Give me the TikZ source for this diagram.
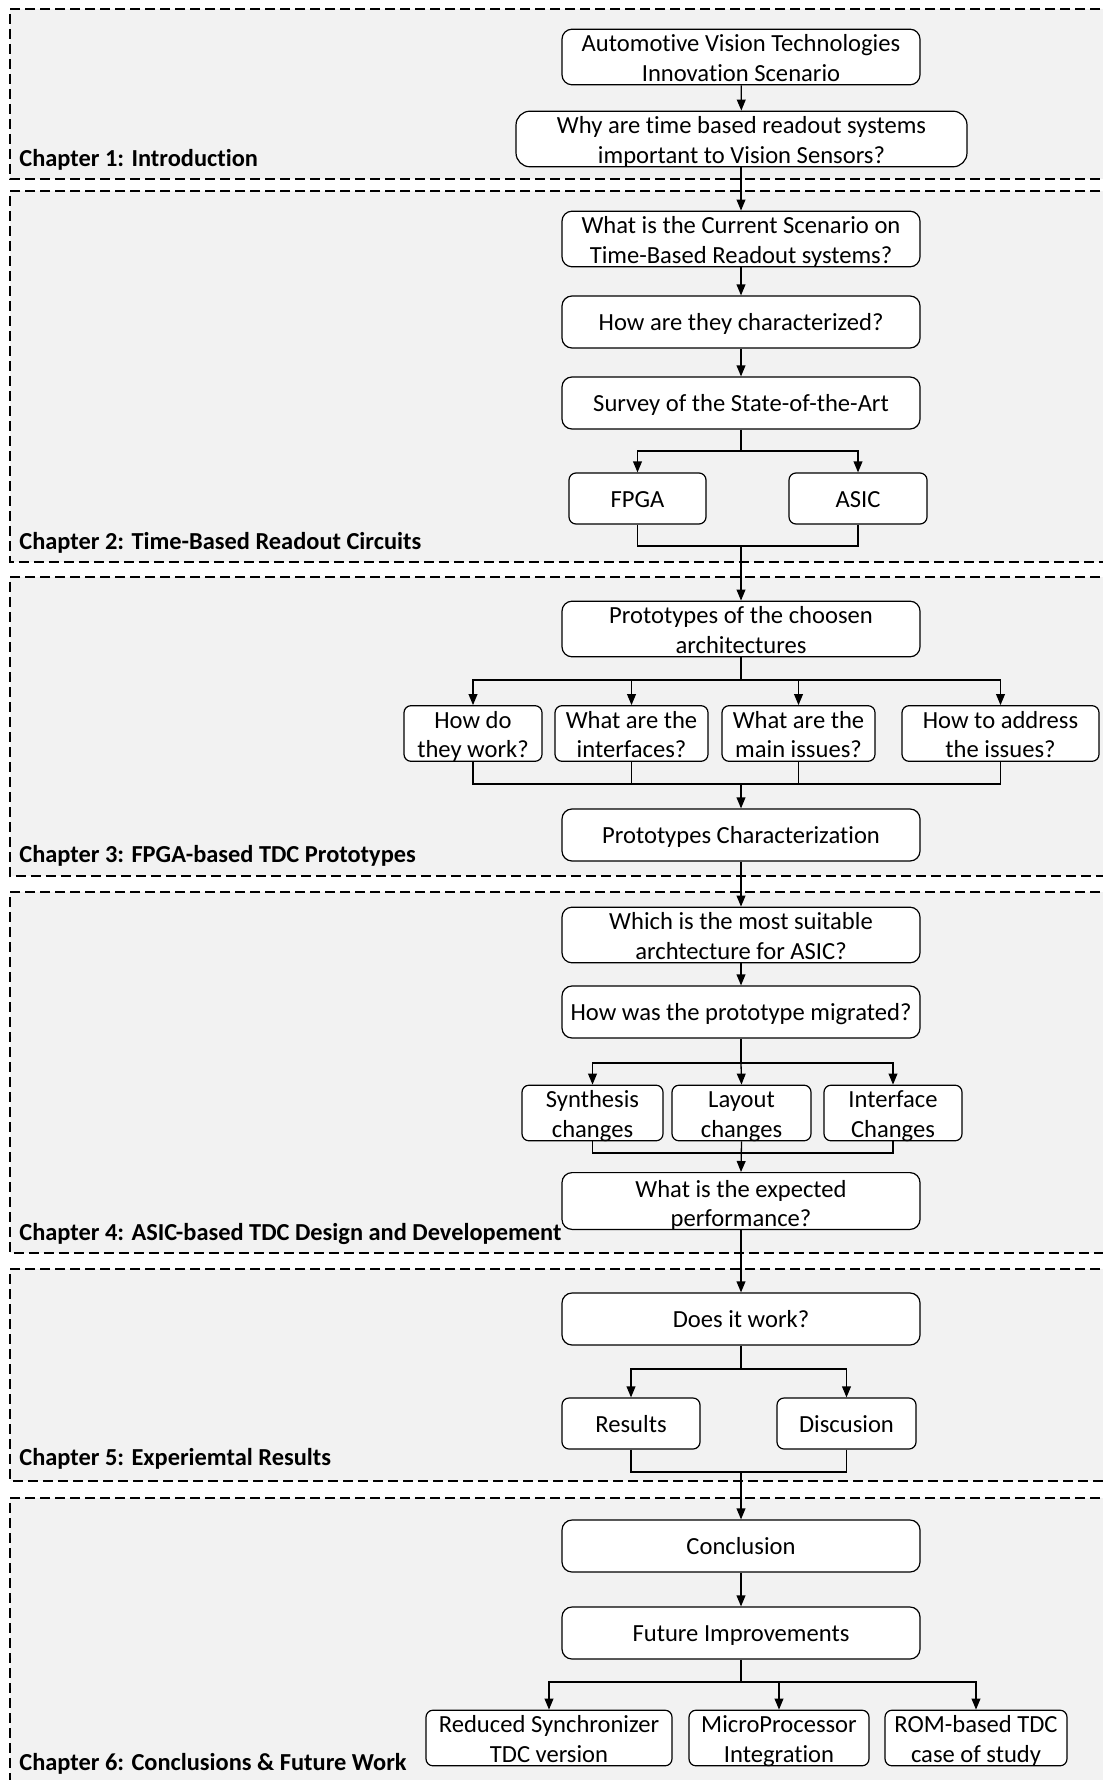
\documentclass[tikz,border=0pt]{standalone}
\usepackage{fontspec}
\setmainfont{Carlito}[Ligatures=NoCommon]
\usetikzlibrary{arrows.meta}
\definecolor{secgray}{HTML}{F2F2F2}
\begin{document}
\begin{tikzpicture}[x=0.5pt,y=-0.5pt,
  secline/.style={draw=black, dash pattern=on 5pt off 2.5pt, line width=0.7pt},
  box/.style={draw, line width=0.6pt, rounded corners=5pt, fill=white, align=center, inner sep=0pt, font=\fontsize{12.3}{14.8}\selectfont},
  one/.style={text height=11pt, text depth=2.2pt},
  two/.style={text height=26pt, text depth=1.8pt},
  sbox/.style={box, rounded corners=3.5pt},
  mainbox/.style={box, minimum width=179pt, minimum height=26pt},
  lbl/.style={anchor=west, font=\bfseries\fontsize{12.2}{14}\selectfont, inner sep=0pt},
  arr/.style={-{Triangle[length=5.5pt,width=4.4pt]}, line width=0.65pt},
  ln/.style={line width=0.65pt}]
\useasboundingbox (0,0) rectangle (1102,1780);
\fill[white] (0,0) rectangle (1102,1780);
% sections
\fill[secgray] (10,9) rectangle (1115,179);
\fill[secgray] (10,191) rectangle (1115,562);
\fill[secgray] (10,577) rectangle (1115,876);
\fill[secgray] (10,892) rectangle (1115,1253);
\fill[secgray] (10,1269) rectangle (1115,1481);
\fill[secgray] (10,1498) rectangle (1115,1795);
\draw[secline] (1115,9) -- (10,9) -- (10,179) -- (1115,179);
\draw[secline] (1115,191) -- (10,191) -- (10,562) -- (1115,562);
\draw[secline] (1115,577) -- (10,577) -- (10,876) -- (1115,876);
\draw[secline] (1115,892) -- (10,892) -- (10,1253) -- (1115,1253);
\draw[secline] (1115,1269) -- (10,1269) -- (10,1481) -- (1115,1481);
\draw[secline] (1115,1498) -- (10,1498) -- (10,1795);
% coordinates
\coordinate (b2) at (741,451);
\coordinate (m2) at (741,546);
\coordinate (b3) at (741,680);
\coordinate (m3) at (741,784);
\coordinate (b4) at (741,1063);
\coordinate (m4) at (741,1153);
\coordinate (b5) at (741,1369);
\coordinate (m5) at (741,1472);
\coordinate (b6) at (741,1682);
% nodes
\node[mainbox, two] (n1) at (741,57) {Automotive Vision Technologies\\Innovation Scenario};
\node[box, two, minimum width=225.5pt, minimum height=27pt, rounded corners=7pt] (n2) at (741.5,139) {Why are time based readout systems\\important to Vision Sensors?};
\node[mainbox, two, minimum height=27pt] (n3) at (741,239) {What is the Current Scenario on\\Time-Based Readout systems?};
\node[mainbox, one] (n4) at (741,322) {How are they characterized?};
\node[mainbox, one] (n5) at (741,403) {Survey of the State-of-the-Art};
\node[sbox, one, minimum width=68.5pt, minimum height=25.5pt] (fpga) at (637.5,498.5) {FPGA};
\node[sbox, one, minimum width=69pt, minimum height=25.5pt] (asic) at (858,498.5) {ASIC};
\node[mainbox, two] (n7) at (741,629) {Prototypes of the choosen\\architectures};
\node[sbox, two, minimum width=69pt, minimum height=25.5pt] (q1) at (473,733.5) {How do\\they work?};
\node[sbox, two, minimum width=76.5pt, minimum height=25.5pt] (q2) at (631.5,733.5) {What are the\\interfaces?};
\node[sbox, two, minimum width=76.5pt, minimum height=25.5pt] (q3) at (798.5,733.5) {What are the\\main issues?};
\node[sbox, two, minimum width=98.5pt, minimum height=25.5pt] (q4) at (1000.5,733.5) {How to address\\the issues?};
\node[mainbox, one] (n12) at (741,835) {Prototypes Characterization};
\node[mainbox, two] (n13) at (741,935) {Which is the most suitable\\archtecture for ASIC?};
\node[mainbox, one] (n14) at (741,1012) {How was the prototype migrated?};
\node[sbox, two, minimum width=70.5pt, minimum height=26pt] (s1) at (592.5,1113) {Synthesis\\changes};
\node[sbox, two, minimum width=69.5pt, minimum height=26pt] (s2) at (741.5,1113) {Layout\\changes};
\node[sbox, two, minimum width=69pt, minimum height=26pt] (s3) at (893,1113) {Interface\\Changes};
\node[mainbox, text height=27pt, text depth=1.4pt] (n18) at (741,1201) {What is the expected\\performance?};
\node[mainbox, one] (n19) at (741,1319) {Does it work?};
\node[sbox, one, minimum width=69pt, minimum height=25.5pt] (r1) at (631,1423.5) {Results};
\node[sbox, one, minimum width=69.5pt, minimum height=25.5pt] (r2) at (846.5,1423.5) {Discusion};
\node[mainbox, one] (n22) at (741,1546) {Conclusion};
\node[mainbox, one] (n23) at (741,1633) {Future Improvements};
\node[sbox, two, minimum width=123pt, minimum height=27pt] (f1) at (549,1738) {Reduced Synchronizer\\TDC version};
\node[sbox, two, minimum width=90pt, minimum height=27pt] (f2) at (779,1738) {MicroProcessor\\Integration};
\node[sbox, two, minimum width=91pt, minimum height=27pt] (f3) at (976,1738) {ROM-based TDC\\case of study};
% labels
\node[lbl] (c1) at (19,159.5) {Chapter 1: Introduction};
\node[lbl] (c2) at (19,542.5) {Chapter 2: Time-Based Readout Circuits};
\node[lbl] (c3) at (19,855.5) {Chapter 3: FPGA-based TDC Prototypes};
\node[lbl] (c4) at (19,1233.5) {Chapter 4: ASIC-based TDC Design and Developement};
\node[lbl] (c5) at (19,1458.5) {Chapter 5: Experiemtal Results};
\node[lbl] (c6) at (19,1763.5) {Chapter 6: Conclusions \& Future Work};
% connectors
\draw[arr] (n1) -- (n2);
\draw[arr] (n2.south -| n3.north) -- (n3.north);
\draw[arr] (n3) -- (n4);
\draw[arr] (n4) -- (n5);
\draw[ln] (n5.south) -- (b2);
\draw[arr] (b2) -| (fpga.north);
\draw[arr] (b2) -| (asic.north);
\draw[ln] (fpga.south) |- (m2);
\draw[ln] (asic.south) |- (m2);
\draw[arr] (m2) -- (n7.north);
\draw[ln] (n7.south) -- (b3);
\draw[arr] (b3) -| (q1.north);
\draw[arr] (b3) -| (q2.north);
\draw[arr] (b3) -| (q3.north);
\draw[arr] (b3) -| (q4.north);
\draw[ln] (q1.south) |- (m3);
\draw[ln] (q2.south) |- (m3);
\draw[ln] (q3.south) |- (m3);
\draw[ln] (q4.south) |- (m3);
\draw[arr] (m3) -- (n12.north);
\draw[arr] (n12) -- (n13);
\draw[arr] (n13) -- (n14);
\draw[ln] (n14.south) -- (b4);
\draw[arr] (b4) -| (s1.north);
\draw[arr] (b4) -- (s2.north);
\draw[arr] (b4) -| (s3.north);
\draw[ln] (s1.south) |- (m4);
\draw[ln] (s3.south) |- (m4);
\draw[arr] (s2.south) -- (n18.north);
\draw[arr] (n18) -- (n19);
\draw[ln] (n19.south) -- (b5);
\draw[arr] (b5) -| (r1.north);
\draw[arr] (b5) -| (r2.north);
\draw[ln] (r1.south) |- (m5);
\draw[ln] (r2.south) |- (m5);
\draw[arr] (m5) -- (n22.north);
\draw[arr] (n22) -- (n23);
\draw[ln] (n23.south) -- (b6);
\draw[arr] (b6) -| (f1.north);
\draw[arr] (b6) -| (f2.north);
\draw[arr] (b6) -| (f3.north);
\end{tikzpicture}
\end{document}
